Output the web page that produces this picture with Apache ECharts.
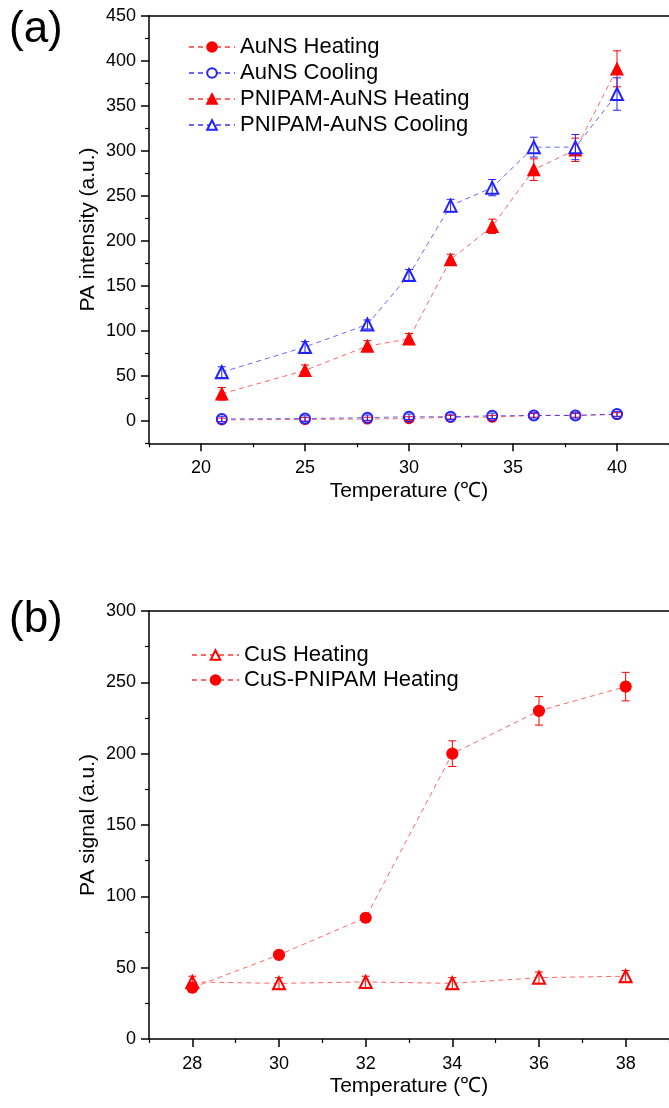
<!DOCTYPE html>
<html>
<head>
<meta charset="utf-8">
<script src="https://cdn.jsdelivr.net/npm/echarts@6/dist/echarts.min.js"></script>
<style>
  html, body { margin: 0; padding: 0; background: #fff; }
  #chart { width: 669px; height: 1108px; }
</style>
</head>
<body>
<div id="chart"></div>
<script>
// ---- Panel (a): gold nanoshells, heating / cooling ----
const tempsA = [21, 25, 28, 30, 32, 34, 36, 38, 40];
const ausHeat = [1, 1.5, 2, 2.5, 4, 4, 6, 6, 7];
const ausHeatErr = [2, 2, 2, 2, 2, 2, 2, 2, 2];
const ausCool = [2, 2.5, 3.5, 4.5, 4.5, 5.5, 6, 6, 7.5];
const ausCoolErr = [3, 3, 3, 3, 3, 3, 3, 3, 3];
const pnHeat = [30, 56, 83, 91, 179, 216, 279, 301, 391];
const pnHeatErr = [7, 6, 6, 6, 6, 8, 12, 13, 20];
const pnCool = [54, 82, 107, 162, 239, 259, 304, 304, 363];
const pnCoolErr = [6, 6, 5, 6, 7, 9, 11, 14, 18];
const ticksAX = [20, 25, 30, 35, 40];
const minorAX = [17.5, 22.5, 27.5, 32.5, 37.5, 42.5];
const ticksAY = [0, 50, 100, 150, 200, 250, 300, 350, 400, 450];
const minorAY = [-25, 25, 75, 125, 175, 225, 275, 325, 375, 425];

// ---- Panel (b): copper sulfide ----
const tempsB = [28, 30, 32, 34, 36, 38];
const cusHeat = [40, 39, 40, 39, 43, 44];
const cusHeatErr = [4, 4, 4, 4, 4, 4];
const cusPnHeat = [36, 59, 85, 200, 230, 247];
const cusPnHeatErr = [3, 2, 3, 9, 10, 10];
const ticksBX = [28, 30, 32, 34, 36, 38];
const minorBX = [27, 29, 31, 33, 35, 37, 39];
const ticksBY = [0, 50, 100, 150, 200, 250, 300];
const minorBY = [25, 75, 125, 175, 225, 275];

const RED = '#ff0000';
const BLUE = '#2222ff';
const RED_LINE = 'rgba(255,0,0,0.6)';
const BLUE_LINE = 'rgba(0,0,255,0.6)';
const FONT = 'Liberation Sans, Arial, sans-serif';

const zip = (xs, ys) => xs.map((x, i) => [x, ys[i]]);
const errData = (xs, ys, es) => xs.map((x, i) => [x, ys[i] - es[i], ys[i] + es[i]]);

function lineSeries(name, xs, ys, symbol, size, color, lineColor, gi) {
  return {
    type: 'line', name, xAxisIndex: gi * 4, yAxisIndex: gi * 4,
    data: zip(xs, ys), symbol, symbolSize: size, z: 3,
    lineStyle: { color: lineColor, width: 1, type: [5, 4] },
    itemStyle: { color, borderColor: color, borderWidth: 1.2 },
    emphasis: { disabled: true }, animation: false
  };
}

function errSeries(xs, ys, es, color, gi) {
  return {
    type: 'custom', xAxisIndex: gi * 4, yAxisIndex: gi * 4, z: 4,
    data: errData(xs, ys, es), encode: { x: 0, y: [1, 2] },
    renderItem: function (params, api) {
      const x = api.value(0);
      const lo = api.coord([x, api.value(1)]);
      const hi = api.coord([x, api.value(2)]);
      const w = 4;
      const st = { stroke: color, lineWidth: 1 };
      return {
        type: 'group', children: [
          { type: 'line', shape: { x1: lo[0], y1: lo[1], x2: hi[0], y2: hi[1] }, style: st },
          { type: 'line', shape: { x1: lo[0] - w, y1: lo[1], x2: lo[0] + w, y2: lo[1] }, style: st },
          { type: 'line', shape: { x1: hi[0] - w, y1: hi[1], x2: hi[0] + w, y2: hi[1] }, style: st }
        ]
      };
    },
    silent: true, animation: false
  };
}

const axisLineStyle = { show: true, onZero: false, lineStyle: { color: '#000', width: 1.5 } };
const labelStyle = { color: '#000', fontSize: 18, fontFamily: FONT };
const nameStyle = { color: '#000', fontSize: 21, fontFamily: FONT };

// Builds the axes for one panel: main axis (labels + major ticks),
// a twin for minor ticks, and a bare axis line on the opposite side.
function xAxes(gi, min, max, major, minor, name) {
  return [
    { type: 'value', gridIndex: gi, position: 'bottom', min, max,
      axisLine: axisLineStyle, splitLine: { show: false },
      axisTick: { show: true, length: 8, customValues: major, lineStyle: { color: '#000', width: 1.5 } },
      axisLabel: { customValues: major, margin: 16, ...labelStyle },
      name, nameLocation: 'middle', nameGap: 37, nameTextStyle: nameStyle },
    { type: 'value', gridIndex: gi, position: 'bottom', min, max,
      axisLine: { show: false, onZero: false }, splitLine: { show: false },
      axisTick: { show: true, length: 4, customValues: minor, lineStyle: { color: '#000', width: 1.2 } },
      axisLabel: { show: false } },
    { type: 'value', gridIndex: gi, position: 'top', min, max,
      axisLine: axisLineStyle, splitLine: { show: false },
      axisTick: { show: false }, axisLabel: { show: false } },
    { type: 'value', gridIndex: gi, position: 'top', min, max, show: false }
  ];
}
function yAxes(gi, min, max, major, minor, name) {
  return [
    { type: 'value', gridIndex: gi, position: 'left', min, max,
      axisLine: axisLineStyle, splitLine: { show: false },
      axisTick: { show: true, length: 8, customValues: major, lineStyle: { color: '#000', width: 1.5 } },
      axisLabel: { customValues: major, margin: 13, ...labelStyle },
      name, nameLocation: 'middle', nameGap: 50, nameMoveOverlap: false, nameTextStyle: nameStyle },
    { type: 'value', gridIndex: gi, position: 'left', min, max,
      axisLine: { show: false, onZero: false }, splitLine: { show: false },
      axisTick: { show: true, length: 4, customValues: minor, lineStyle: { color: '#000', width: 1.2 } },
      axisLabel: { show: false } },
    { type: 'value', gridIndex: gi, position: 'right', min, max, show: false },
    { type: 'value', gridIndex: gi, position: 'right', min, max, show: false }
  ];
}

const option = {
  backgroundColor: '#fff',
  animation: false,
  textStyle: { fontFamily: FONT },
  grid: [
    { left: 149, top: 15.7, width: 527, height: 427.6 },
    { left: 149, top: 611, width: 526, height: 428 }
  ],
  xAxis: [
    ...xAxes(0, 17.5, 42.5, ticksAX, minorAX, 'Temperature (℃)'),
    ...xAxes(1, 27, 39, ticksBX, minorBX, 'Temperature (℃)')
  ],
  yAxis: [
    ...yAxes(0, -25, 450, ticksAY, minorAY, 'PA intensity (a.u.)'),
    ...yAxes(1, 0, 300, ticksBY, minorBY, 'PA signal (a.u.)')
  ],
  legend: [
    { left: 188, top: 36, padding: 0, orient: 'vertical', itemWidth: 46, itemHeight: 12, itemGap: 4,
      textStyle: { color: '#000', fontSize: 22, lineHeight: 22, fontFamily: FONT },
      data: ['AuNS Heating', 'AuNS Cooling', 'PNIPAM-AuNS Heating', 'PNIPAM-AuNS Cooling'],
      selectedMode: false },
    { left: 191, top: 644, padding: 0, orient: 'vertical', itemWidth: 47, itemHeight: 12, itemGap: 3,
      textStyle: { color: '#000', fontSize: 22, lineHeight: 22, fontFamily: FONT },
      data: ['CuS Heating', 'CuS-PNIPAM Heating'],
      selectedMode: false }
  ],
  graphic: [
    { type: 'text', left: 9, top: 8, style: { text: '(a)', fontSize: 44, fontFamily: FONT, fill: '#000' } },
    { type: 'text', left: 9, top: 598, style: { text: '(b)', fontSize: 44, fontFamily: FONT, fill: '#000' } }
  ],
  series: [
    lineSeries('AuNS Heating', tempsA, ausHeat, 'circle', 10, RED, RED_LINE, 0),
    errSeries(tempsA, ausHeat, ausHeatErr, RED, 0),
    lineSeries('AuNS Cooling', tempsA, ausCool, 'emptyCircle', 10, BLUE, BLUE_LINE, 0),
    errSeries(tempsA, ausCool, ausCoolErr, BLUE, 0),
    lineSeries('PNIPAM-AuNS Heating', tempsA, pnHeat, 'triangle', 12, RED, RED_LINE, 0),
    errSeries(tempsA, pnHeat, pnHeatErr, RED, 0),
    lineSeries('PNIPAM-AuNS Cooling', tempsA, pnCool, 'emptyTriangle', 12, BLUE, BLUE_LINE, 0),
    errSeries(tempsA, pnCool, pnCoolErr, BLUE, 0),

    lineSeries('CuS Heating', tempsB, cusHeat, 'emptyTriangle', 12, RED, RED_LINE, 1),
    errSeries(tempsB, cusHeat, cusHeatErr, RED, 1),
    lineSeries('CuS-PNIPAM Heating', tempsB, cusPnHeat, 'circle', 11, RED, RED_LINE, 1),
    errSeries(tempsB, cusPnHeat, cusPnHeatErr, RED, 1)
  ]
};

const chart = echarts.init(document.getElementById('chart'), null, { renderer: 'canvas' });
chart.setOption(option);
</script>
</body>
</html>
